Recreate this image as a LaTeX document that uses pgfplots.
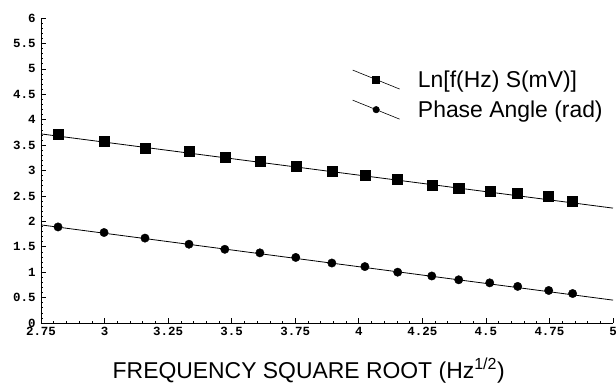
\documentclass[border=0pt]{standalone}
\usepackage{pgfplots}
\pgfplotsset{compat=1.18}
\usepackage{fontspec}
\setmainfont{Liberation Sans}
\newfontfamily\tickfont{Liberation Mono}
\begin{document}
\begin{tikzpicture}[x=1bp,y=1bp]
\path[use as bounding box] (-41,-60) rectangle (575,323);
\begin{axis}[
  at={(0,0)}, anchor=south west,
  width=572bp, height=305bp, scale only axis,
  xmin=2.75, xmax=5, ymin=0, ymax=6,
  axis lines=left, axis line style={-, line width=0.8bp},
  tick align=inside,
  xtick={2.75,3,3.25,3.5,3.75,4,4.25,4.5,4.75,5},
  xticklabels={2.75,3,3.25,3.5,3.75,4,4.25,4.5,4.75,5},
  ytick={0,0.5,1,1.5,2,2.5,3,3.5,4,4.5,5,5.5,6},
  yticklabels={0,0.5,1,1.5,2,2.5,3,3.5,4,4.5,5,5.5,6},
  minor x tick num=4, minor y tick num=4,
  major tick length=5bp, minor tick length=2.5bp,
  every tick/.style={black, line width=0.6bp},
  tick label style={font=\tickfont\bfseries\fontsize{12.5}{14}\selectfont},
  xticklabel style={yshift=-1bp},
  yticklabel style={xshift=-2bp},
  xlabel={FREQUENCY SQUARE ROOT (Hz\textsuperscript{1/2})},
  xlabel style={font=\fontsize{23}{27}\selectfont, at={(axis description cs:0.468,0)}, anchor=base, yshift=-55bp},
  legend style={draw=none, fill=none, at={(axis description cs:0.544,0.835)}, anchor=north west,
    font=\fontsize{23}{27}\selectfont, row sep=8bp, inner sep=0pt,
    nodes={inner sep=2bp}},
  legend cell align=left,
  legend image code/.code={\draw[mark repeat=2,mark phase=2,#1] plot coordinates {(0bp,9.5bp) (23.5bp,0bp) (47bp,-9.5bp)}; \path (63bp,0bp);},
]
\addplot[black, line width=0.8bp, forget plot] coordinates {(2.75,3.72) (5,2.26)};
\addplot[black, line width=0.8bp, forget plot] coordinates {(2.75,1.93) (5,0.45)};
\addplot[only marks, mark=square*, mark size=5bp, black, forget plot] coordinates {
(2.817,3.71) (2.998,3.57) (3.159,3.44) (3.332,3.37) (3.473,3.27) (3.611,3.18) (3.752,3.08) (3.894,2.99)
(4.024,2.91) (4.153,2.83) (4.287,2.72) (4.393,2.65) (4.515,2.60) (4.625,2.55) (4.747,2.49) (4.841,2.40)};
\addplot[only marks, mark=*, mark size=4.2bp, black, forget plot] coordinates {
(2.817,1.89) (2.998,1.78) (3.159,1.67) (3.332,1.55) (3.473,1.45) (3.611,1.38) (3.752,1.29) (3.894,1.18)
(4.024,1.11) (4.153,1.00) (4.287,0.925) (4.393,0.85) (4.515,0.79) (4.625,0.72) (4.747,0.64) (4.841,0.58)};
\addlegendimage{black, line width=0.6bp, mark=square*, mark size=3.5bp}
\addlegendentry{Ln[f(Hz) S(mV)]}
\addlegendimage{black, line width=0.6bp, mark=*, mark size=3.2bp}
\addlegendentry{Phase Angle (rad)}
\end{axis}
\end{tikzpicture}
\end{document}
